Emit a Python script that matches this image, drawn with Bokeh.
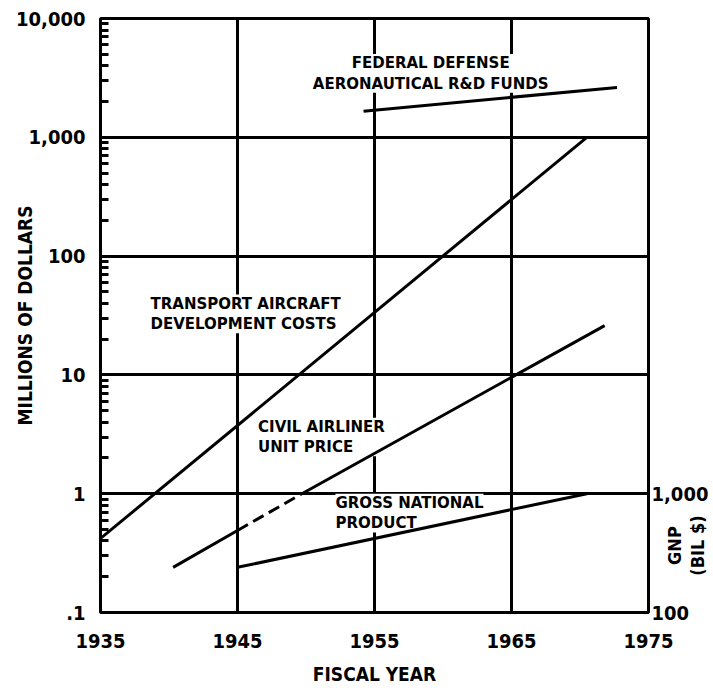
from math import pi
from bokeh.plotting import figure
from bokeh.models import (Range1d, LogScale, LogAxis, FixedTicker, Label)
from bokeh.embed import file_html
from bokeh.resources import INLINE

# ---- data ----
year_ticks = [1935, 1945, 1955, 1965, 1975]
y_ticks = [0.1, 1, 10, 100, 1000, 10000]
y_tick_labels = [".1", "1", "10", "100", "1,000", "10,000"]
gnp_ticks = [100, 1000]
gnp_tick_labels = ["100", "1,000"]

transport_years = [1935, 1970.5]
transport_cost = [0.42, 1000]          # millions $

civil_years_early = [1940.3, 1945]
civil_price_early = [0.24, 0.49]
civil_years_gap = [1945, 1949.7]
civil_price_gap = [0.49, 1.0]
civil_years_late = [1949.7, 1971.8]
civil_price_late = [1.0, 26]

gnp_years = [1945, 1970.5]
gnp_bil = [240, 1000]                  # billions $ (right axis)

fed_years = [1954.2, 1972.7]
fed_funds = [1660, 2630]               # millions $

NARROW = "DejaVu Sans Condensed, Liberation Sans, sans-serif"
SANS = "DejaVu Sans"

p = figure(frame_width=548, frame_height=594,
           x_range=Range1d(1935, 1975), y_range=Range1d(0.1, 10000),
           y_axis_type="log", output_backend="svg", toolbar_location=None,
           min_border_left=100, min_border_top=18, min_border_right=0,
           min_border_bottom=70, background_fill_color="white",
           border_fill_color="white")

p.outline_line_color = "black"
p.outline_line_width = 3

# grids
p.xgrid.ticker = FixedTicker(ticks=year_ticks)
p.ygrid.ticker = FixedTicker(ticks=y_ticks)
for g in (p.xgrid, p.ygrid):
    g.grid_line_color = "black"
    g.grid_line_width = 3
    g.grid_line_alpha = 1

TICK_SIZE = "20px"

# x axis
xa = p.xaxis[0]
xa.ticker = FixedTicker(ticks=year_ticks)
xa.axis_line_color = None
xa.major_tick_line_color = None
xa.minor_tick_line_color = None
xa.major_label_text_font = NARROW
xa.major_label_text_font_style = "bold"
xa.major_label_text_font_size = TICK_SIZE
xa.major_label_text_color = "black"
xa.major_label_standoff = 15
xa.axis_label = "FISCAL YEAR"
xa.axis_label_text_font = NARROW
xa.axis_label_text_font_style = "bold"
xa.axis_label_text_font_size = "19px"
xa.axis_label_text_color = "black"
xa.axis_label_standoff = 12

# y axis (left)
minor = [m * t for t in y_ticks[:-1] for m in range(2, 10)]
ya = p.yaxis[0]
ya.ticker = FixedTicker(ticks=y_ticks, minor_ticks=minor)
ya.major_label_overrides = dict(zip(y_ticks, y_tick_labels))
ya.axis_line_color = None
ya.major_tick_line_color = None
ya.minor_tick_in = 8
ya.minor_tick_out = 0
ya.minor_tick_line_width = 3
ya.minor_tick_line_color = "black"
ya.major_tick_out = 0
ya.major_tick_in = 0
ya.major_label_text_font = NARROW
ya.major_label_text_font_style = "bold"
ya.major_label_text_font_size = TICK_SIZE
ya.major_label_text_color = "black"
ya.major_label_standoff = 15
ya.axis_label = "MILLIONS OF DOLLARS"
ya.axis_label_text_font = NARROW
ya.axis_label_text_font_style = "bold"
ya.axis_label_text_font_size = "19px"
ya.axis_label_text_color = "black"
ya.axis_label_standoff = -23

# right axis for GNP
p.extra_y_ranges = {"gnp": Range1d(100, 1e7)}
p.extra_y_scales = {"gnp": LogScale()}
ra = LogAxis(y_range_name="gnp", ticker=FixedTicker(ticks=gnp_ticks))
ra.major_label_overrides = dict(zip(gnp_ticks, gnp_tick_labels))
ra.axis_line_color = None
ra.major_tick_line_color = None
ra.minor_tick_line_color = None
ra.major_tick_out = 0
ra.minor_tick_out = 0
ra.major_label_text_font = NARROW
ra.major_label_text_font_style = "bold"
ra.major_label_text_font_size = TICK_SIZE
ra.major_label_text_color = "black"
ra.major_label_standoff = 3
p.add_layout(ra, "right")

# GNP axis title, placed in the right side panel (not clipped to the frame)
gt = Label(x=1977.75, y=0.366, text="GNP\n(BIL $)", angle=pi / 2,
           text_font=NARROW, text_font_style="bold", text_font_size="18px",
           text_color="black", text_align="center", text_baseline="middle",
           text_line_height=1.1)
p.add_layout(gt, "right")

# text labels (white boxes break the grid like the original)
def lab(x, y, text, align="left", size="15px"):
    L = Label(x=x, y=y, text=text, text_font=SANS, text_font_style="bold",
              text_font_size=size, text_color="black", text_align=align,
              text_baseline="middle", text_line_height=1.15,
              background_fill_color="white", level="underlay")
    p.add_layout(L)
    return L

lab(1959.1, 3450, "FEDERAL DEFENSE\nAERONAUTICAL R&D FUNDS", align="center")
lab(1938.65, 32.6, "TRANSPORT AIRCRAFT\nDEVELOPMENT COSTS")
lab(1946.5, 3.0, "CIVIL AIRLINER\nUNIT PRICE")
lab(1952.15, 0.686, "GROSS NATIONAL\nPRODUCT")

# data lines
lw = 3
p.line(transport_years, transport_cost, line_color="black", line_width=lw)
p.line(civil_years_early, civil_price_early, line_color="black", line_width=lw)
p.line(civil_years_gap, civil_price_gap, line_color="black", line_width=lw,
       line_dash="12 6")
p.line(civil_years_late, civil_price_late, line_color="black", line_width=lw)
p.line(gnp_years, gnp_bil, line_color="black", line_width=lw, y_range_name="gnp")
p.line(fed_years, fed_funds, line_color="black", line_width=lw)

open("out.html", "w").write(file_html(p, INLINE))
